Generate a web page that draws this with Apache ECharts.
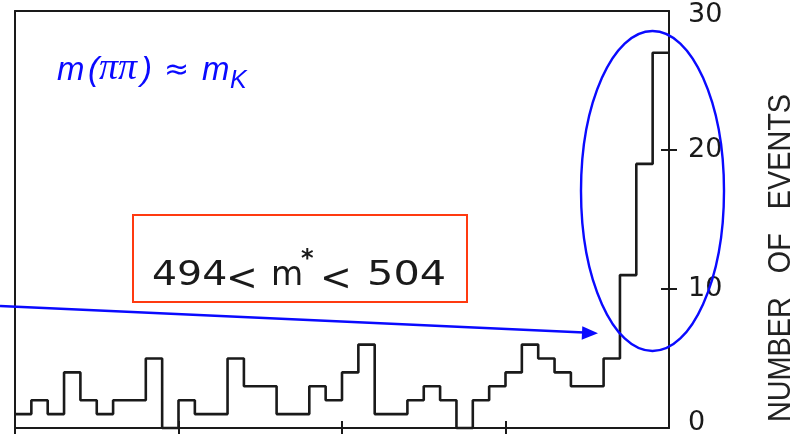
<!DOCTYPE html>
<html><head><meta charset="utf-8">
<script src="https://cdn.jsdelivr.net/npm/echarts@6/dist/echarts.min.js"></script>
<style>html,body{margin:0;padding:0;background:#fff}#c{width:806px;height:434px}</style>
</head><body><div id="c"></div>
<script>
// Histogram bin contents (40 equal bins across the m(pi pi) window)
const counts = [1,2,1,4,2,1,2,2,5,0, 2,1,1,5,3,3,1,1,3,2, 4,6,1,1,2,3,2,0,2,3, 4,6,5,4,3,3,5,11,19,27];
const yTickValues = [0,10,20,30];
const yTickMarks = [10,20];
const xTickMarksInside = [10,20,30];
const xTickMarksOutside = [0,10,20,30];
const yAxisTitle = 'NUMBER   OF   EVENTS';
const massLabel = ['494', '<', 'm', '*', '<', '504'];
const pipiLabel = ['m', '(', '\u03c0\u03c0', ')', '\u2248', 'm', 'K'];

const chart = echarts.init(document.getElementById('c'), null, {renderer:'canvas'});
const ink = '#1a1a1a';
const blue = '#0a0aff';
const red = '#ff3a10';

const stepData = counts.map((c,i)=>[i,c]).concat([[counts.length, counts[counts.length-1]]]);

function txt(s, x, y, font, size, color, extra){
  return Object.assign({type:'text', x:x, y:y, z:10, style:Object.assign({
    text:s, fontFamily:font, fontSize:size, fill:color, textVerticalAlign:'bottom'}, (extra&&extra.style)||{})},
    extra&&extra.el||{});
}

chart.setOption({
  animation:false,
  backgroundColor:'#fff',
  grid: {left:15, right:137, top:11, bottom:6, containLabel:false, outerBoundsMode:'none'},
  xAxis: [
    {type:'value', position:'bottom', min:0, max:40, interval:10,
     axisLine:{show:true, onZero:false, lineStyle:{color:ink, width:2}},
     axisTick:{show:true, inside:true, length:7, customValues:xTickMarksInside, lineStyle:{color:ink, width:2}},
     axisLabel:{show:false}, splitLine:{show:false}},
    {type:'value', position:'bottom', min:0, max:40, interval:10,
     axisLine:{show:false, onZero:false},
     axisTick:{show:true, inside:false, length:7, customValues:xTickMarksOutside, lineStyle:{color:ink, width:2}},
     axisLabel:{show:false}, splitLine:{show:false}},
    {type:'value', position:'top', min:0, max:40, interval:10,
     axisLine:{show:true, onZero:false, lineStyle:{color:ink, width:2}},
     axisTick:{show:false}, axisLabel:{show:false}, splitLine:{show:false}}
  ],
  yAxis: [
    {type:'value', position:'right', min:0, max:30, interval:10,
     axisLine:{show:true, onZero:false, lineStyle:{color:ink, width:2}},
     axisTick:{show:true, inside:false, length:8, customValues:yTickMarks, lineStyle:{color:ink, width:2}},
     axisLabel:{show:true, margin:19, customValues:yTickValues,
       formatter:function(v){ return v===0 ? '{z|0}' : (v===30 ? '{t|30}' : '{n|'+v+'}'); },
       rich:{
         n:{fontFamily:'DejaVu Sans', fontSize:27, color:ink},
         z:{fontFamily:'DejaVu Sans', fontSize:27, color:ink, padding:[0,0,10,0]},
         t:{fontFamily:'DejaVu Sans', fontSize:27, color:ink, padding:[8,0,0,0]}
       }},
     splitLine:{show:false}},
    {type:'value', position:'right', min:0, max:30, interval:10,
     axisLine:{show:false, onZero:false},
     axisTick:{show:true, inside:true, length:8, customValues:yTickMarks, lineStyle:{color:ink, width:2}},
     axisLabel:{show:false}, splitLine:{show:false}},
    {type:'value', position:'left', min:0, max:30, interval:10,
     axisLine:{show:true, onZero:false, lineStyle:{color:ink, width:2}},
     axisTick:{show:false}, axisLabel:{show:false}, splitLine:{show:false}}
  ],
  series: [{
    type:'line', step:'end', xAxisIndex:0, yAxisIndex:0,
    data: stepData, symbol:'none', clip:false,
    lineStyle:{color:ink, width:2.6}
  }],
  graphic: [
    {type:'ellipse', shape:{cx:652.5, cy:191, rx:71.5, ry:160}, style:{fill:'none', stroke:blue, lineWidth:2.4}, z:10},
    {type:'rect', shape:{x:133, y:215, width:334, height:87}, style:{fill:'none', stroke:red, lineWidth:2}, z:10},
    {type:'line', shape:{x1:0, y1:306, x2:584, y2:332.5}, style:{stroke:blue, lineWidth:2.5}, z:10},
    {type:'polygon', shape:{points:[[598,333.2],[582.3,326.2],[581.7,339.8]]}, style:{fill:blue}, z:10},
    // m(pi pi) ~ m_K
    txt(pipiLabel[0], 57, 87, 'Liberation Sans', 33, blue, {style:{fontStyle:'italic'}}),
    txt(pipiLabel[1], 88, 87, 'Liberation Sans', 33, blue, {style:{fontStyle:'italic'}}),
    txt(pipiLabel[2], 99, 88, 'Liberation Serif', 38, blue, {style:{fontStyle:'italic'}}),
    txt(pipiLabel[3], 141, 87, 'Liberation Sans', 33, blue, {style:{fontStyle:'italic'}}),
    txt(pipiLabel[4], 164, 86, 'DejaVu Sans', 30, blue),
    txt(pipiLabel[5], 202, 87, 'Liberation Sans', 33, blue, {style:{fontStyle:'italic'}}),
    txt(pipiLabel[6], 230, 94, 'Liberation Sans', 25, blue, {style:{fontStyle:'italic'}}),
    // 494 < m* < 504
    txt(massLabel[0], 152, 293, 'DejaVu Sans', 34, ink, {el:{scaleX:1.16}}),
    txt(massLabel[1], 226, 299, 'DejaVu Sans', 38, ink),
    txt(massLabel[2], 271, 293, 'DejaVu Sans', 33, ink),
    txt(massLabel[3], 301, 272, 'DejaVu Sans', 24, ink, {style:{fontWeight:'bold'}}),
    txt(massLabel[4], 320, 299, 'DejaVu Sans', 38, ink),
    txt(massLabel[5], 367, 293, 'DejaVu Sans', 34, ink, {el:{scaleX:1.22}}),
    // axis title
    {type:'text', x:781, y:258, rotation:Math.PI/2, scaleX:0.9, z:10, style:{text:yAxisTitle, fontFamily:'Liberation Sans', fontSize:32, fill:'#222', textAlign:'center', textVerticalAlign:'middle'}}
  ]
});
</script></body></html>
